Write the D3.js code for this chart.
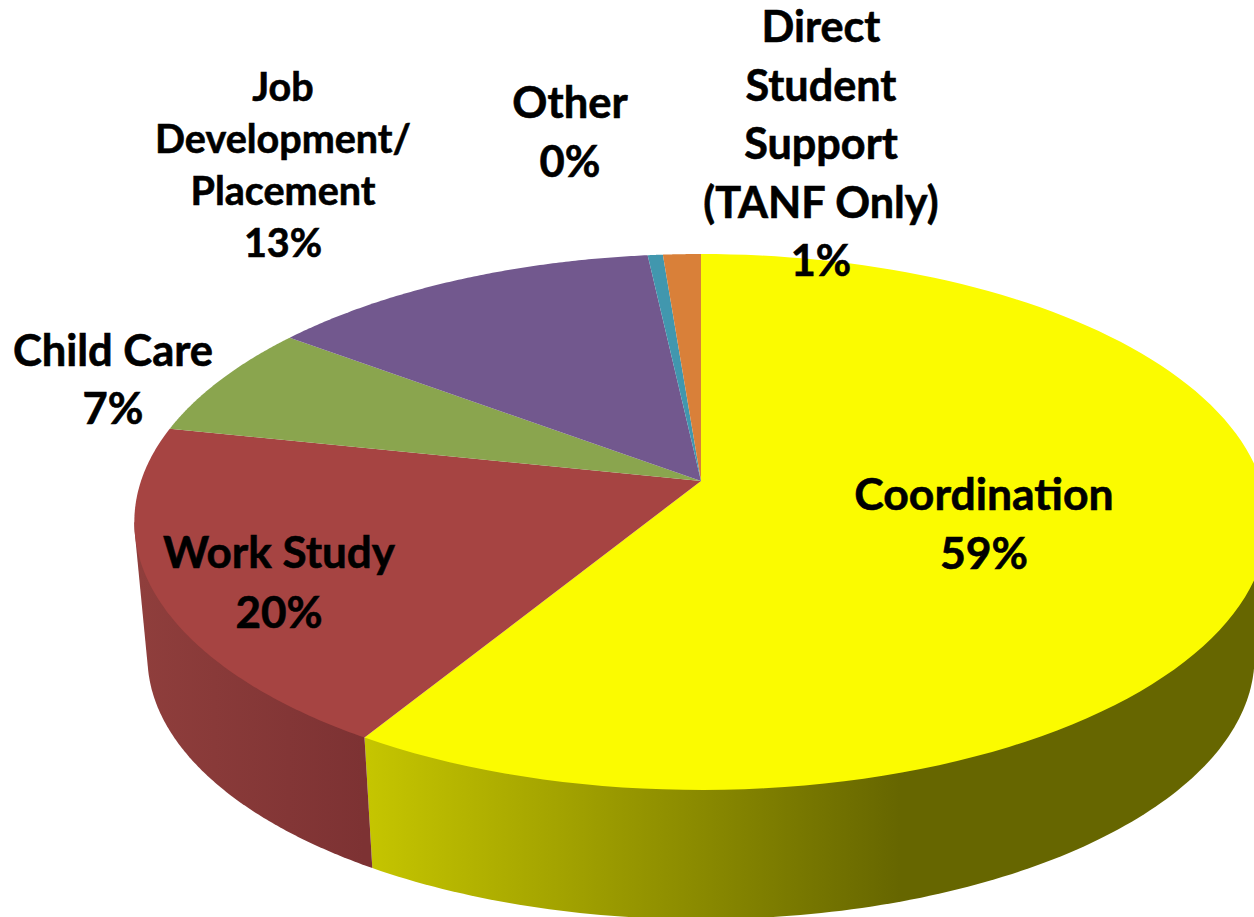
<!DOCTYPE html>
<meta charset="utf-8">
<script src="https://d3js.org/d3.v7.min.js"></script>
<style>
  html, body { margin: 0; padding: 0; background: #fff; overflow: hidden; }
  text { font-family: Lato, "Open Sans", sans-serif; font-weight: 700; fill: #000; stroke: #000; stroke-width: 0.6px; }
</style>
<body>
<div id="chart"></div>
<script>
// data
var categories = ["Coordination", "Work Study", "Child Care", "Job Development/Placement", "Other", "Direct Student Support (TANF Only)"];
var shares = [58.75, 19.55, 6.9, 13.05, 0.5, 1.25];
var percentLabels = ["59%", "20%", "7%", "13%", "0%", "1%"];
var labelLines = [
  ["Coordination"],
  ["Work Study"],
  ["Child Care"],
  ["Job", "Development/", "Placement"],
  ["Other"],
  ["Direct", "Student", "Support", "(TANF Only)"]
];

// colours per slice
var topColors = ["#fbfb00", "#a64442", "#8aa54e", "#72588e", "#4197ae", "#d98039"];

// label layout: centre x, baseline of first line, line gap, font size
var labelLayout = [
  {x: 984, y: 510, gap: 59, size: 44.5},
  {x: 279, y: 568, gap: 60, size: 44},
  {x: 113, y: 366, gap: 58, size: 43.5},
  {x: 283, y: 101, gap: 52, size: 39.5},
  {x: 570, y: 118, gap: 59, size: 43.5},
  {x: 821, y: 42,  gap: 58.5, size: 43.2}
];

var width = 1254, height = 917;

// perspective view of the disc: k is the foreshortening
var k = 0.153;
var topDisc = {cx: 701, cy: 481, a: 560, b: 261.7};
var baseDisc = {cx: 701, cy: 617, a: 547, b: 256};
var tangent = Math.acos(-k);   // where the rim leaves the silhouette

function project(disc, angle) {
  var w = 1 + k * Math.cos(angle);
  return [disc.cx + disc.a * Math.sin(angle) / w, disc.cy - disc.b * Math.cos(angle) / w];
}

var svg = d3.select("#chart").append("svg")
  .attr("width", width)
  .attr("height", height)
  .style("display", "block");

var pie = d3.pie().sort(null).startAngle(0).endAngle(2 * Math.PI);
var slices = pie(shares);
var line = d3.line();

// wall shading runs left to right across the screen
var wallGradients = [
  {id: "wall0", x1: 364, x2: 900, from: "#c6c600", to: "#666600"},
  {id: "wall1", x1: 140, x2: 364, from: "#8f3e3c", to: "#7d3233"}
];

var defs = svg.append("defs");
wallGradients.forEach(function(g) {
  var grad = defs.append("linearGradient")
    .attr("id", g.id)
    .attr("gradientUnits", "userSpaceOnUse")
    .attr("x1", g.x1).attr("x2", g.x2).attr("y1", 0).attr("y2", 0);
  grad.append("stop").attr("offset", 0).attr("stop-color", g.from);
  grad.append("stop").attr("offset", 1).attr("stop-color", g.to);
});

// walls, only the two front slices show them
svg.append("g")
  .selectAll("path")
  .data(slices.slice(0, 2))
  .enter()
  .append("path")
    .attr("d", function(s) {
      var from = Math.max(s.startAngle, tangent);
      var to = Math.min(s.endAngle, 2 * Math.PI - tangent);
      var pts = [];
      d3.range(0, 121).forEach(function(n) {
        var a = from + (to - from) * n / 120;
        pts.push(project(topDisc, a), project(baseDisc, a));
      });
      return line(d3.polygonHull(pts)) + "Z";
    })
    .attr("fill", function(s, i) { return "url(#" + wallGradients[i].id + ")"; });

// top of the pie
svg.append("g")
  .selectAll("path")
  .data(slices)
  .enter()
  .append("path")
    .attr("d", function(s) {
      var pts = d3.range(0, 121).map(function(n) {
        return project(topDisc, s.startAngle + (s.endAngle - s.startAngle) * n / 120);
      });
      pts.push([topDisc.cx, topDisc.cy]);
      return line(pts) + "Z";
    })
    .attr("fill", function(s, i) { return topColors[i]; });

// labels
var labels = svg.append("g")
  .selectAll("text")
  .data(categories)
  .enter()
  .append("text")
    .attr("text-anchor", "middle")
    .attr("font-size", function(d, i) { return labelLayout[i].size; })
    .attr("x", function(d, i) { return labelLayout[i].x; })
    .attr("y", function(d, i) { return labelLayout[i].y; });

labels.each(function(d, i) {
  var lay = labelLayout[i];
  d3.select(this).selectAll("tspan")
    .data(labelLines[i].concat(percentLabels[i]))
    .enter()
    .append("tspan")
      .attr("x", lay.x)
      .attr("y", function(t, j) { return lay.y + j * lay.gap; })
      .text(function(t) { return t; });
});
</script>
</body>
